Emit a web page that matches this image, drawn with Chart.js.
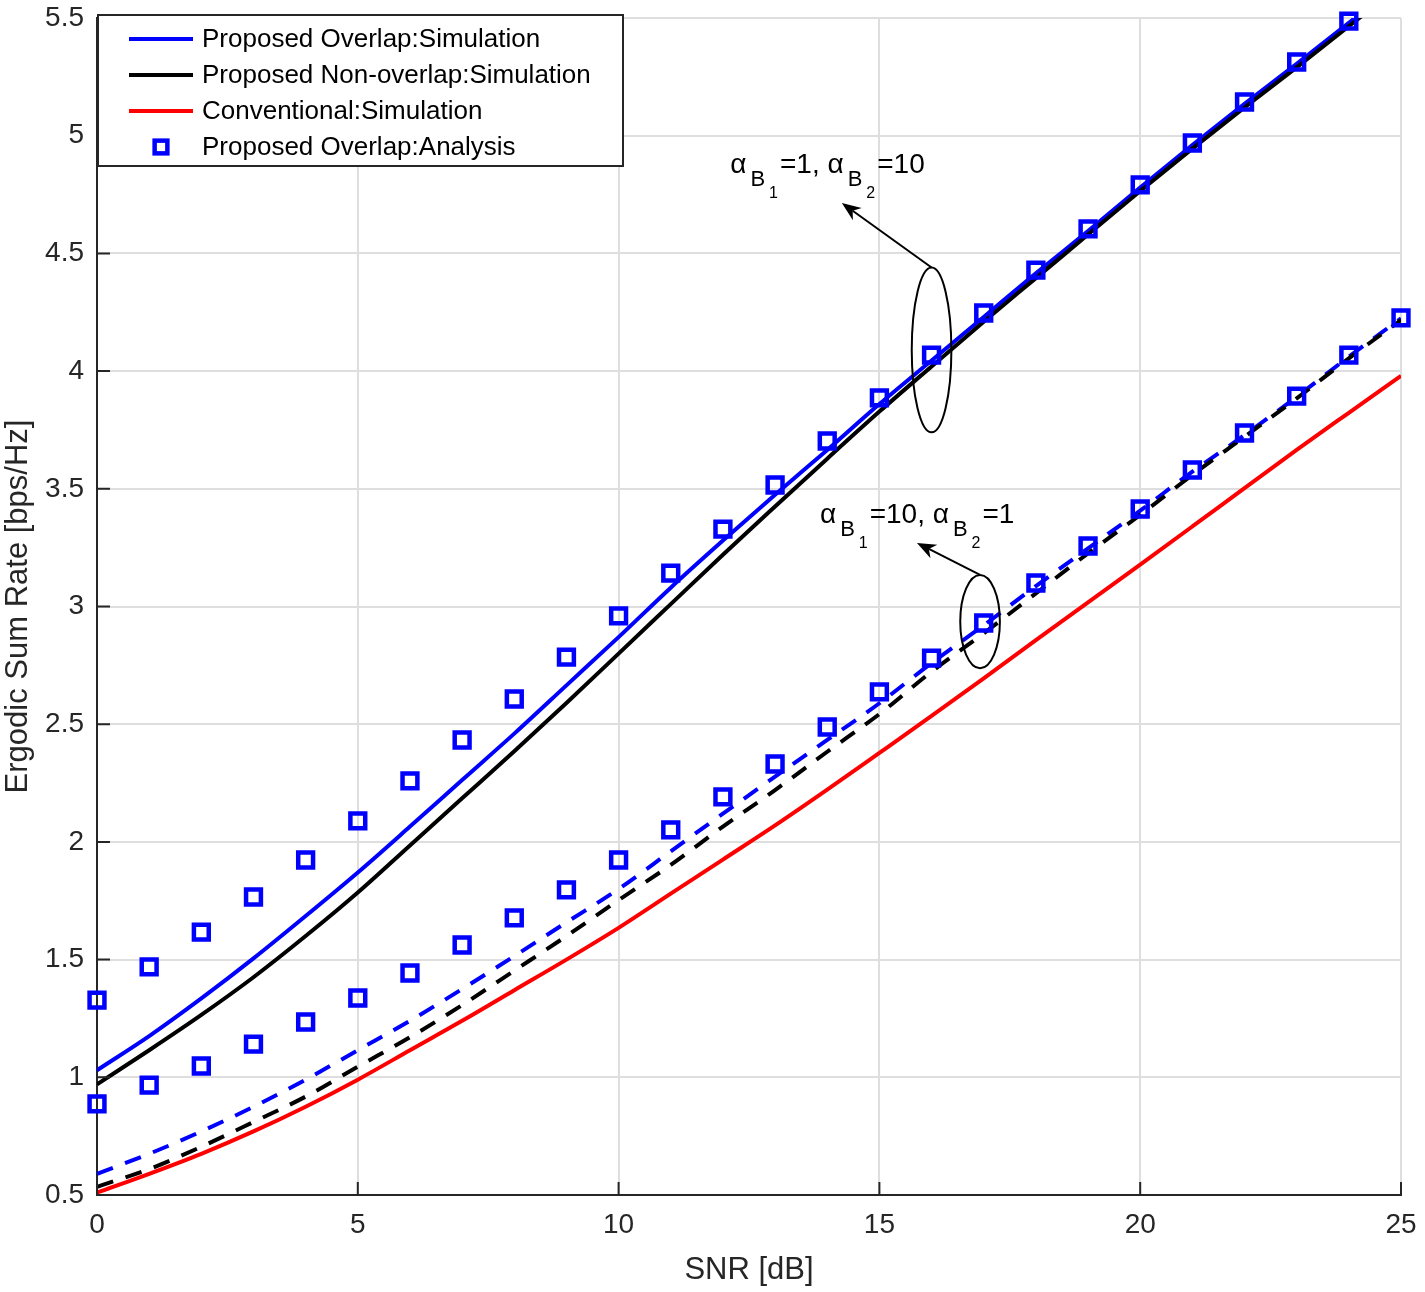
<!DOCTYPE html>
<html>
<head>
<meta charset="utf-8">
<script src="https://cdn.jsdelivr.net/npm/chart.js@4.4.1/dist/chart.umd.min.js"></script>
<style>
  html, body { margin: 0; padding: 0; background: #fff; }
  #wrap { width: 1425px; height: 1292px; }
</style>
</head>
<body>
<div id="wrap"><canvas id="chart" width="1425" height="1292"></canvas></div>
<script>
const FONT = '"Liberation Sans", Arial, "DejaVu Sans", sans-serif';
const AXIS_COLOR = '#262626';

// SNR [dB]
const snr = [0, 1, 2, 3, 4, 5, 6, 7, 8, 9, 10, 11, 12, 13, 14, 15, 16, 17, 18, 19, 20, 21, 22, 23, 24, 25];

// alpha_B1 = 1, alpha_B2 = 10
const overlapSimA = [1.03, 1.175, 1.335, 1.505, 1.685, 1.87, 2.065, 2.263, 2.46, 2.665, 2.87, 3.08, 3.28, 3.475, 3.665, 3.86, 4.045, 4.23, 4.415, 4.595, 4.78, 4.96, 5.135, 5.305, 5.48, 5.65];
const nonOverlapSimA = [0.97, 1.115, 1.265, 1.425, 1.6, 1.785, 1.985, 2.185, 2.385, 2.59, 2.8, 3.01, 3.22, 3.425, 3.628, 3.828, 4.02, 4.21, 4.395, 4.58, 4.765, 4.945, 5.12, 5.29, 5.465, 5.64];
const overlapAnaA = [1.328, 1.469, 1.617, 1.766, 1.923, 2.089, 2.259, 2.433, 2.607, 2.785, 2.96, 3.142, 3.329, 3.516, 3.703, 3.886, 4.068, 4.247, 4.429, 4.604, 4.791, 4.969, 5.143, 5.313, 5.487];

// alpha_B1 = 10, alpha_B2 = 1
const overlapSimB = [0.59, 0.675, 0.77, 0.875, 0.99, 1.115, 1.24, 1.375, 1.515, 1.658, 1.8, 1.96, 2.12, 2.277, 2.433, 2.589, 2.76, 2.92, 3.087, 3.247, 3.407, 3.573, 3.728, 3.891, 4.061, 4.224];
const nonOverlapSimB = [0.535, 0.61, 0.705, 0.81, 0.918, 1.045, 1.17, 1.307, 1.453, 1.6, 1.753, 1.902, 2.065, 2.22, 2.383, 2.543, 2.723, 2.886, 3.056, 3.226, 3.389, 3.559, 3.721, 3.884, 4.054, 4.217];
const overlapAnaB = [0.887, 0.967, 1.048, 1.141, 1.235, 1.337, 1.443, 1.562, 1.677, 1.796, 1.923, 2.051, 2.191, 2.331, 2.488, 2.637, 2.781, 2.93, 3.1, 3.257, 3.414, 3.58, 3.737, 3.894, 4.068, 4.226];

// conventional scheme
const conventionalSim = [0.51, 0.59, 0.675, 0.77, 0.875, 0.99, 1.115, 1.24, 1.37, 1.5, 1.635, 1.78, 1.925, 2.07, 2.222, 2.378, 2.535, 2.695, 2.857, 3.018, 3.178, 3.34, 3.503, 3.665, 3.823, 3.98];

const legendLabels = [
  'Proposed Overlap:Simulation',
  'Proposed Non-overlap:Simulation',
  'Conventional:Simulation',
  'Proposed Overlap:Analysis'
];

const xTitle = 'SNR [dB]';
const yTitle = 'Ergodic Sum Rate [bps/Hz]';

// group labels, ellipses and arrows (data coordinates)
const groupNotes = [
  { text: [['α', 0], ['B', 1], ['1', 2], ['=1, ', 0], ['α', 0], ['B', 1], ['2', 2], ['=10', 0]],
    at: [12.14, 4.842], ellipse: [16, 4.09, 0.38, 0.35], arrowTo: [14.28, 4.714] },
  { text: [['α', 0], ['B', 1], ['1', 2], ['=10, ', 0], ['α', 0], ['B', 1], ['2', 2], ['=1', 0]],
    at: [13.86, 3.355], ellipse: [16.93, 2.936, 0.38, 0.198], arrowTo: [15.72, 3.27] }
];

const pts = arr => arr.map((v, i) => ({ x: snr[i], y: v }));

const BLUE = '#0000ff', BLACK = '#000000', RED = '#ff0000';

function lineSet(label, data, color, dashed, order) {
  return {
    label: label,
    data: pts(data),
    borderColor: color,
    backgroundColor: color,
    borderWidth: 4,
    borderDash: dashed ? [17, 13] : [],
    pointRadius: 0,
    cubicInterpolationMode: 'monotone',
    fill: false,
    order: order
  };
}

function markerSet(label, data) {
  return {
    label: label,
    data: pts(data),
    showLine: false,
    pointStyle: 'rect',
    pointRadius: 10.5,
    pointBorderWidth: 4.5,
    pointBorderColor: BLUE,
    pointBackgroundColor: 'rgba(0,0,0,0)',
    clip: false,
    order: 0
  };
}

const datasets = [
  lineSet(legendLabels[0], overlapSimA, BLUE, false, 3),
  lineSet(legendLabels[1], nonOverlapSimA, BLACK, false, 2),
  lineSet(legendLabels[2], conventionalSim, RED, false, 4),
  markerSet(legendLabels[3], overlapAnaA),
  lineSet('', overlapSimB, BLUE, true, 3),
  lineSet('', nonOverlapSimB, BLACK, true, 2),
  markerSet('', overlapAnaB)
];

// inward tick marks on the left and bottom axes
const innerTicks = {
  id: 'innerTicks',
  afterDatasetsDraw(chart) {
    const { ctx, chartArea: a, scales: { x, y } } = chart;
    ctx.save();
    ctx.strokeStyle = AXIS_COLOR;
    ctx.lineWidth = 2;
    ctx.beginPath();
    x.ticks.forEach(t => {
      const px = x.getPixelForValue(t.value);
      ctx.moveTo(px, a.bottom);
      ctx.lineTo(px, a.bottom - 13);
    });
    y.ticks.forEach(t => {
      const py = y.getPixelForValue(t.value);
      ctx.moveTo(a.left, py);
      ctx.lineTo(a.left + 13, py);
    });
    ctx.stroke();
    ctx.restore();
  }
};

function drawTex(ctx, x, y, parts) {
  const sizes = [28, 22, 16];
  const drops = [0, 13, 25];
  const gaps = [4, 4, 2];
  parts.forEach(([t, lvl], i) => {
    ctx.font = sizes[lvl] + 'px ' + FONT;
    ctx.fillText(t, x, y + drops[lvl]);
    x += ctx.measureText(t).width;
    const next = parts[i + 1];
    if (next) x += (next[1] > lvl || lvl > 0) ? gaps[lvl] : 0;
  });
}

const notes = {
  id: 'notes',
  afterDatasetsDraw(chart) {
    const { ctx, scales: { x, y } } = chart;
    ctx.save();
    ctx.fillStyle = '#000';
    ctx.strokeStyle = '#000';
    ctx.lineWidth = 2;
    ctx.textBaseline = 'alphabetic';
    groupNotes.forEach(n => {
      const [cx, cy, rx, ry] = n.ellipse;
      const pcx = x.getPixelForValue(cx), pcy = y.getPixelForValue(cy);
      const prx = x.getPixelForValue(cx + rx) - pcx;
      const pry = pcy - y.getPixelForValue(cy + ry);
      ctx.beginPath();
      ctx.ellipse(pcx, pcy, prx, pry, 0, 0, Math.PI * 2);
      ctx.stroke();

      // arrow from top of ellipse
      const sx = pcx, sy = pcy - pry;
      const tx = x.getPixelForValue(n.arrowTo[0]), ty = y.getPixelForValue(n.arrowTo[1]);
      const ang = Math.atan2(ty - sy, tx - sx);
      const len = 19, half = 7.5;
      const bx = tx - Math.cos(ang) * len, by = ty - Math.sin(ang) * len;
      const nx = tx - Math.cos(ang) * len * 0.7, ny = ty - Math.sin(ang) * len * 0.7;
      ctx.beginPath();
      ctx.moveTo(sx, sy);
      ctx.lineTo(nx, ny);
      ctx.stroke();
      ctx.beginPath();
      ctx.moveTo(tx, ty);
      ctx.lineTo(bx - Math.sin(ang) * half, by + Math.cos(ang) * half);
      ctx.lineTo(nx, ny);
      ctx.lineTo(bx + Math.sin(ang) * half, by - Math.cos(ang) * half);
      ctx.closePath();
      ctx.fill();

      drawTex(ctx, x.getPixelForValue(n.at[0]), y.getPixelForValue(n.at[1]), n.text);
    });
    ctx.restore();
  }
};

// legend box in the upper-left corner of the axes
const boxLegend = {
  id: 'boxLegend',
  afterDatasetsDraw(chart) {
    const { ctx, chartArea: a } = chart;
    const left = a.left, top = a.top - 3, w = 526, h = 151;
    ctx.save();
    ctx.fillStyle = '#fff';
    ctx.fillRect(left, top, w, h);
    ctx.strokeStyle = AXIS_COLOR;
    ctx.lineWidth = 2;
    ctx.strokeRect(left + 1, top, w - 1, h);
    ctx.font = '26px ' + FONT;
    ctx.textBaseline = 'middle';
    legendLabels.forEach((lab, i) => {
      const ds = chart.data.datasets[i];
      const ry = top + 24 + i * 36;
      if (ds.showLine === false) {
        const s = 9 * Math.SQRT1_2;
        ctx.strokeStyle = ds.pointBorderColor;
        ctx.lineWidth = ds.pointBorderWidth;
        ctx.strokeRect(left + 64 - s, ry - s, 2 * s, 2 * s);
      } else {
        ctx.strokeStyle = ds.borderColor;
        ctx.lineWidth = ds.borderWidth;
        ctx.beginPath();
        ctx.moveTo(left + 32, ry);
        ctx.lineTo(left + 96, ry);
        ctx.stroke();
      }
      ctx.fillStyle = '#000';
      ctx.fillText(lab, left + 105, ry + 1);
    });
    ctx.restore();
  }
};

const tickFont = { family: FONT, size: 28 };
const titleFont = { family: FONT, size: 31 };

new Chart(document.getElementById('chart').getContext('2d'), {
  type: 'line',
  data: { datasets: datasets },
  options: {
    responsive: false,
    animation: false,
    layout: { padding: { left: 0, right: 24, top: 18, bottom: 3 } },
    plugins: { legend: { display: false }, tooltip: { enabled: false } },
    scales: {
      x: {
        type: 'linear',
        min: 0,
        max: 25,
        ticks: { stepSize: 5, padding: 13, color: AXIS_COLOR, font: tickFont },
        grid: { color: '#dedede', lineWidth: 2, drawTicks: false },
        border: { color: AXIS_COLOR, width: 2 },
        title: { display: true, text: xTitle, color: AXIS_COLOR, font: titleFont, padding: 0 },
        afterFit: s => { s.height = 94; s.paddingLeft = 0; s.paddingRight = 0; }
      },
      y: {
        min: 0.5,
        max: 5.5,
        ticks: {
          stepSize: 0.5, padding: 13, color: AXIS_COLOR, font: tickFont,
          callback: v => String(+v.toFixed(1))
        },
        grid: { color: '#dedede', lineWidth: 2, drawTicks: false },
        border: { color: AXIS_COLOR, width: 2 },
        title: { display: true, text: yTitle, color: AXIS_COLOR, font: titleFont, padding: 0 },
        afterFit: s => { s.width = 97; s.paddingTop = 0; s.paddingBottom = 0; }
      }
    }
  },
  plugins: [innerTicks, notes, boxLegend]
});
</script>
</body>
</html>
